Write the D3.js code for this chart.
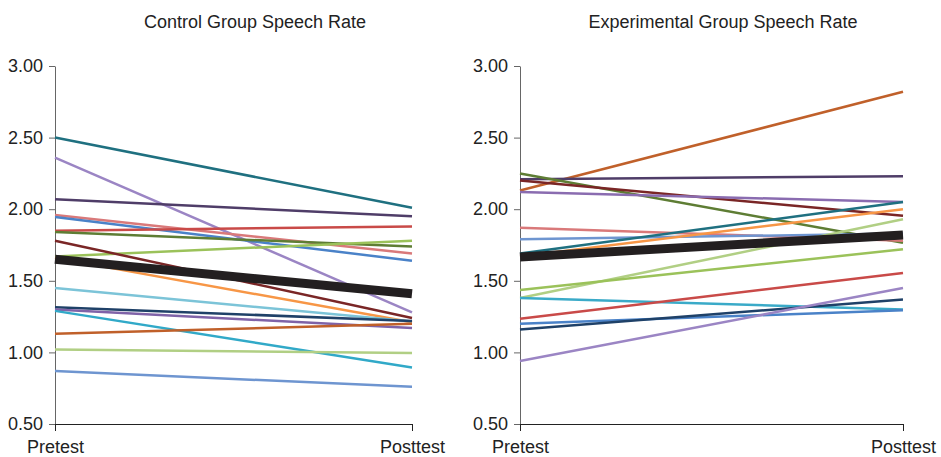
<!DOCTYPE html>
<html>
<head>
<meta charset="utf-8">
<title>Speech Rate</title>
<script src="https://cdn.jsdelivr.net/npm/d3@7"></script>
<style>
  html, body { margin: 0; padding: 0; background: #fff; }
  svg { display: block; font-family: "Liberation Sans", Arial, sans-serif; }
  .title { font-size: 18px; fill: #222; }
  .axis text { font-size: 18px; fill: #222; }
  .y.axis path, .y.axis line { stroke: #666; }
  .x.axis path, .x.axis line { stroke: #222; }
  .series { fill: none; stroke-linecap: butt; }
</style>
</head>
<body>
<svg width="941" height="457"></svg>
<script>
// tick labels / categories
var phases = ["Pretest", "Posttest"];
var yTicks = [0.5, 1.0, 1.5, 2.0, 2.5, 3.0];

// control group: one value per student, pretest and posttest
var controlPre  = [2.50, 2.36, 2.07, 1.96, 1.945, 1.85, 1.84, 1.67, 1.78, 1.66, 1.45, 1.315, 1.30, 1.29, 1.13, 1.02, 0.87];
var controlPost = [2.01, 1.28, 1.95, 1.69, 1.64, 1.88, 1.74, 1.78, 1.24, 1.21, 1.215, 1.22, 1.17, 0.895, 1.20, 0.995, 0.76];
var controlMean = [1.65, 1.41];

// experimental group
var expPre  = [2.13, 2.21, 2.25, 2.20, 2.12, 1.87, 1.79, 1.69, 1.67, 1.38, 1.435, 1.38, 1.235, 1.20, 1.16, 0.94];
var expPost = [2.82, 2.23, 1.765, 1.955, 2.05, 1.78, 1.83, 2.05, 2.00, 1.93, 1.72, 1.30, 1.555, 1.295, 1.37, 1.45];
var expMean = [1.667, 1.82];

// line colours, same order as the values
var controlColors = ["#1f7080", "#9b85c4", "#4f3d68", "#d9797a", "#4a82c8", "#c94a48", "#5e7d34", "#9bc25a",
                     "#7a2626", "#f79646", "#7cc4d8", "#1f4168", "#7f63a8", "#31a9c8", "#c0602a", "#b1cf84", "#6e95d0"];
var expColors = ["#c0602a", "#4f3d68", "#5e7d34", "#7a2626", "#8a6cb0", "#d9797a", "#6e95d0", "#1f7080",
                 "#f79646", "#b1cf84", "#9bc25a", "#3aaac8", "#c94a48", "#4a82c8", "#1f4168", "#9b85c4"];

var svg = d3.select("svg");

function panel(opts) {
  var x = d3.scalePoint().domain(phases).range([opts.x0, opts.x1]);
  var y = d3.scaleLinear().domain([0.5, 3]).range([424, opts.yTop]);
  var g = svg.append("g");

  g.append("text")
    .attr("class", "title")
    .attr("x", opts.titleX)
    .attr("y", 28)
    .attr("text-anchor", "middle")
    .text(opts.title);

  g.append("g")
    .attr("class", "y axis")
    .attr("transform", "translate(" + opts.x0 + ",0)")
    .call(d3.axisLeft(y).tickValues(yTicks).tickFormat(d3.format(".2f"))
      .tickSize(6).tickSizeOuter(0).tickPadding(6));

  g.append("g")
    .attr("class", "x axis")
    .attr("transform", "translate(0,424)")
    .call(d3.axisBottom(x).tickSize(7).tickSizeOuter(0).tickPadding(9));

  var line = d3.line().x(function(d, i) { return x(phases[i]); }).y(function(d) { return y(d); });

  var rows = opts.pre.map(function(v, i) { return { vals: [v, opts.post[i]], color: opts.colors[i] }; });

  g.append("g").selectAll("path")
    .data(rows)
    .enter().append("path")
    .attr("class", "series")
    .attr("stroke", function(d) { return d.color; })
    .attr("stroke-width", 2.5)
    .attr("d", function(d) { return line(d.vals); });

  g.append("path")
    .attr("class", "series")
    .attr("stroke", "#231f20")
    .attr("stroke-width", 9)
    .attr("d", line(opts.mean));
}

panel({ title: "Control Group Speech Rate", titleX: 255, x0: 55, x1: 412, yTop: 66,
        pre: controlPre, post: controlPost, mean: controlMean, colors: controlColors });
panel({ title: "Experimental Group Speech Rate", titleX: 723, x0: 520, x1: 903, yTop: 66,
        pre: expPre, post: expPost, mean: expMean, colors: expColors });
</script>
</body>
</html>
